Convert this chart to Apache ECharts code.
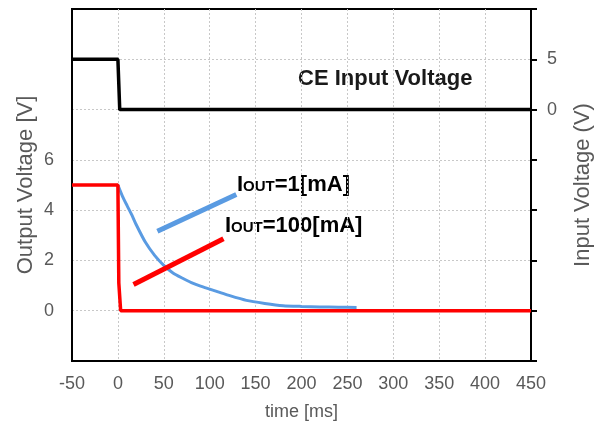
<!DOCTYPE html>
<html>
<head>
<meta charset="utf-8">
<script src="https://cdn.jsdelivr.net/npm/echarts@6/dist/echarts.min.js"></script>
<style>
  html, body { margin: 0; padding: 0; background: #fff; }
  #chart { width: 602px; height: 435px; }
</style>
</head>
<body>
<div id="chart"></div>
<script>
// CE input voltage, [time ms, V] on the right axis
const ceInput = [[-50, 5], [0, 5], [2, 0], [450, 0]];
// output voltage, IOUT = 100 mA
const vout100 = [[-50, 5], [0, 5], [1, 1.1], [3, 0], [450, 0]];
// output voltage, IOUT = 1 mA
const vout1 = [
  [0, 5.0], [5, 4.55], [10, 4.18], [15, 3.82], [20, 3.42], [30, 2.72], [40, 2.2],
  [50, 1.8], [60, 1.5], [70, 1.3], [80, 1.12], [90, 0.98], [100, 0.86],
  [110, 0.74], [120, 0.62], [140, 0.41], [160, 0.29], [180, 0.2], [200, 0.17],
  [220, 0.15], [240, 0.14], [260, 0.13]
];
// the thick strokes that point at the two labels
const keyBlue = [[43, 3.16], [129, 4.62]];
const keyRed = [[17, 1.04], [115, 2.86]];

const leftLabels = [0, 2, 4, 6];
const rightLabels = [0, 5];

const txt = '#595959';
const font = 'Liberation Sans';
const chart = echarts.init(document.getElementById('chart'));

const labelRich = {
  a: { fontFamily: font, fontWeight: 'bold', fontSize: 22, color: '#1a1a1a' },
  b: { fontFamily: font, fontWeight: 'bold', fontSize: 15, color: '#1a1a1a', verticalAlign: 'bottom', padding: [0, 0, 2, 0] }
};
const gridLine = {
  showMinLine: false, showMaxLine: false,
  lineStyle: { color: '#c8c8c8', type: [2, 2], width: 1 }
};

chart.setOption({
  animation: false,
  grid: {
    left: 72, right: 71, top: 9, bottom: 74, outerBoundsMode: 'none',
    show: true, borderColor: '#000', borderWidth: 2
  },
  xAxis: {
    type: 'value', min: -50, max: 450, interval: 50,
    name: 'time [ms]', nameLocation: 'middle', nameGap: 42,
    nameTextStyle: { color: txt, fontSize: 18, fontFamily: font },
    axisLine: { onZero: false, lineStyle: { color: '#000', width: 2 } },
    axisTick: { show: false },
    axisLabel: { color: txt, fontSize: 18, fontFamily: font, margin: 14 },
    splitLine: gridLine
  },
  yAxis: [{
    type: 'value', min: -2, max: 12, interval: 2, position: 'left',
    name: 'Output Voltage [V]', nameLocation: 'middle', nameGap: 35, nameMoveOverlap: false,
    nameTextStyle: { color: txt, fontSize: 22, fontFamily: font },
    axisLine: { show: true, onZero: false, lineStyle: { color: '#000', width: 2 } },
    axisTick: { show: false },
    axisLabel: {
      color: txt, fontSize: 18, fontFamily: font, margin: 18,
      formatter: v => leftLabels.includes(v) ? String(v) : ''
    },
    splitLine: gridLine
  }, {
    type: 'value', min: -25, max: 10, interval: 5, position: 'right',
    name: 'Input Voltage (V)', nameLocation: 'middle', nameGap: 41,
    nameTextStyle: { color: txt, fontSize: 22, fontFamily: font },
    axisLine: { show: true, onZero: false, lineStyle: { color: '#000', width: 2 } },
    axisTick: { show: true, inside: false, length: 6, lineStyle: { color: '#000', width: 2 } },
    axisLabel: {
      color: txt, fontSize: 18, fontFamily: font, margin: 16,
      formatter: v => rightLabels.includes(v) ? String(v) : ''
    },
    splitLine: { show: false }
  }],
  series: [
    { type: 'line', name: 'CE', yAxisIndex: 1, data: ceInput, showSymbol: false,
      lineStyle: { color: '#000', width: 3.5 } },
    { type: 'line', name: 'IOUT=1mA', data: vout1, showSymbol: false, smooth: 0.2,
      lineStyle: { color: '#5a9be2', width: 3 } },
    { type: 'line', name: 'IOUT=100mA', data: vout100, showSymbol: false,
      lineStyle: { color: '#ff0000', width: 3.5 } },
    { type: 'line', name: 'key1', data: keyBlue, showSymbol: false,
      lineStyle: { color: '#5a9be2', width: 5 } },
    { type: 'line', name: 'key100', data: keyRed, showSymbol: false,
      lineStyle: { color: '#ff0000', width: 5 } }
  ],
  graphic: [
    { type: 'text', left: 298, top: 68,
      style: { text: 'CE Input Voltage', fontFamily: font, fontWeight: 'bold', fontSize: 22, fill: '#1a1a1a' } },
    { type: 'text', left: 237, top: 174,
      style: { text: '{a|I}{b|OUT}{a|=1[mA]}', rich: labelRich } },
    { type: 'text', left: 225, top: 215,
      style: { text: '{a|I}{b|OUT}{a|=100[mA]}', rich: labelRich } }
  ]
});
</script>
</body>
</html>
